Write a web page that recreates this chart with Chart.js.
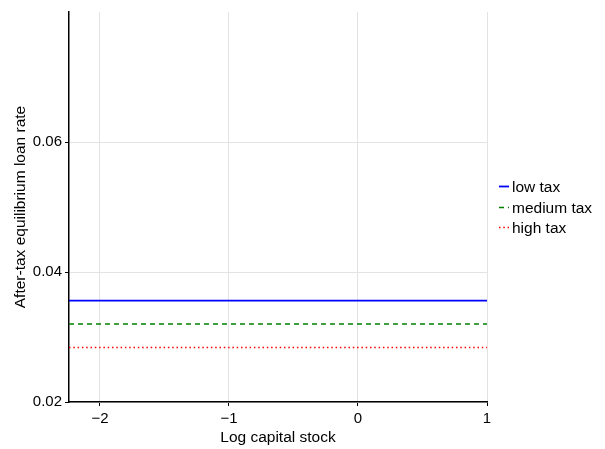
<!DOCTYPE html>
<html>
<head>
<meta charset="utf-8">
<script src="https://cdn.jsdelivr.net/npm/chart.js@4.4.1/dist/chart.umd.min.js"></script>
<style>
  html, body { margin: 0; padding: 0; background: #fff; }
  #wrap { width: 605px; height: 449px; }
</style>
</head>
<body>
<div id="wrap"><canvas id="c" width="605" height="449"></canvas></div>
<script>
// Log capital stock grid (endpoints of the plotted range)
const logCapital = [-2.24, 1];
// After-tax equilibrium loan rate for each tax regime
const lowTax = [0.0356, 0.0356];
const mediumTax = [0.0320, 0.0320];
const highTax = [0.0284, 0.0284];
const seriesNames = ['low tax', 'medium tax', 'high tax'];
// Axis ticks
const xTicks = [-2, -1, 0, 1];
const yTicks = [0.02, 0.04, 0.06];

const FONT = 'Liberation Sans, Arial, Helvetica, sans-serif';

function pts(ys) { return logCapital.map((x, i) => ({ x: x, y: ys[i] })); }

// Legend drawn to the right of the plot, short line samples with dataset styles
const sideLegend = {
  id: 'sideLegend',
  afterDraw(chart) {
    const ctx = chart.ctx;
    const area = chart.chartArea;
    const x0 = area.right + 12;
    const yStart = 186;
    const step = 20.5;
    ctx.save();
    ctx.font = '15.5px ' + FONT;
    ctx.textBaseline = 'middle';
    ctx.textAlign = 'left';
    chart.data.datasets.forEach((ds, i) => {
      const y = Math.round(yStart + i * step) + 0.5;
      ctx.beginPath();
      ctx.setLineDash(ds.borderDash || []);
      ctx.strokeStyle = ds.borderColor;
      ctx.lineWidth = ds.borderWidth;
      ctx.moveTo(x0, y);
      ctx.lineTo(x0 + 10, y);
      ctx.stroke();
      ctx.setLineDash([]);
      ctx.fillStyle = '#000';
      ctx.fillText(ds.label, x0 + 13, y + 1);
    });
    ctx.restore();
  }
};

new Chart(document.getElementById('c'), {
  type: 'line',
  data: {
    datasets: [
      { label: seriesNames[0], data: pts(lowTax), borderColor: '#0000ff', borderWidth: 1.8, pointRadius: 0, fill: false },
      { label: seriesNames[1], data: pts(mediumTax), borderColor: '#008000', borderWidth: 1.5, borderDash: [5, 4], pointRadius: 0, fill: false },
      { label: seriesNames[2], data: pts(highTax), borderColor: '#ff0000', borderWidth: 1.5, borderDash: [1.5, 2.8], pointRadius: 0, fill: false }
    ]
  },
  options: {
    responsive: false,
    animation: false,
    layout: { padding: { left: 0, top: 9, right: 118, bottom: 0 } },
    plugins: { legend: { display: false }, tooltip: { enabled: false } },
    scales: {
      x: {
        type: 'linear',
        min: logCapital[0],
        max: logCapital[logCapital.length - 1],
        afterBuildTicks: s => { s.ticks = xTicks.map(v => ({ value: v })); },
        afterFit: s => { s.height = 47; },
        ticks: {
          color: '#000',
          font: { family: FONT, size: 15 },
          padding: 4,
          maxRotation: 0,
          callback: v => (v < 0 ? '\u2212' + Math.abs(v) : String(v))
        },
        grid: { color: '#e3e3e3', lineWidth: 1, tickColor: '#000', tickLength: 4 },
        border: { display: true, color: '#000', width: 1.5 },
        title: {
          display: true,
          text: 'Log capital stock',
          color: '#000',
          font: { family: FONT, size: 15.5 },
          padding: { top: 0, bottom: 2 }
        }
      },
      y: {
        type: 'linear',
        min: 0.02,
        max: 0.08,
        afterBuildTicks: s => { s.ticks = yTicks.map(v => ({ value: v })); },
        afterFit: s => { s.width = 69; },
        ticks: {
          color: '#000',
          font: { family: FONT, size: 15 },
          padding: 3,
          callback: v => v.toFixed(2)
        },
        grid: { color: '#e3e3e3', lineWidth: 1, tickColor: '#000', tickLength: 4 },
        border: { display: true, color: '#000', width: 1.5 },
        title: {
          display: true,
          text: 'After-tax equilibrium loan rate',
          color: '#000',
          font: { family: FONT, size: 15.5 },
          padding: { top: 11, bottom: 0 }
        }
      }
    }
  },
  plugins: [sideLegend]
});
</script>
</body>
</html>
